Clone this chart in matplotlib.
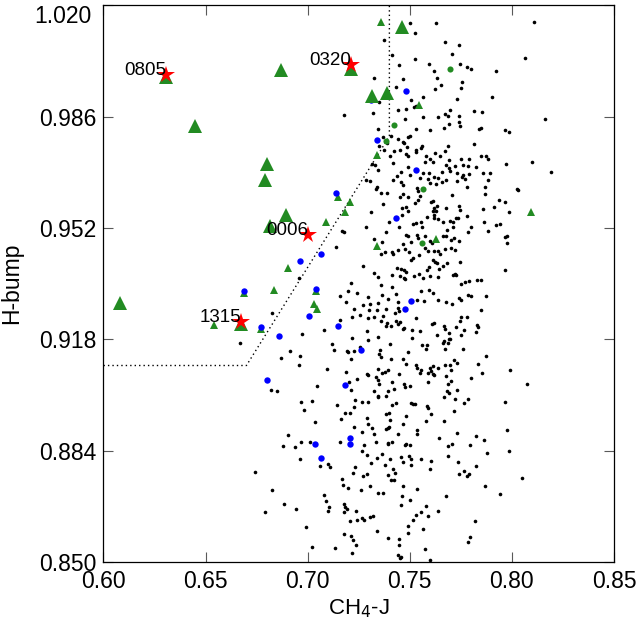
import numpy as np
import matplotlib
matplotlib.use("Agg")
import matplotlib.pyplot as plt
from matplotlib.transforms import ScaledTranslation

plt.rcParams['font.family'] = ['Liberation Sans', 'DejaVu Sans']

# field objects (small black dots): (CH4-J, H-bump)
field_dots = [
    (0.7501, 1.0147), (0.7630, 1.0146), (0.8110, 1.0150), (0.7524, 1.0115), (0.7375, 1.0095),
    (0.7674, 1.0088), (0.7742, 1.0078), (0.7705, 1.0051), (0.7415, 1.0047), (0.7527, 1.0037),
    (0.8065, 1.0040), (0.7447, 1.0018), (0.7594, 1.0020), (0.7744, 1.0022), (0.7781, 1.0011),
    (0.7801, 1.0007), (0.7618, 1.0000), (0.7924, 0.9998), (0.7327, 0.9979), (0.7467, 0.9976),
    (0.7634, 0.9977), (0.7758, 0.9967), (0.7654, 0.9957), (0.7623, 0.9945), (0.7752, 0.9947),
    (0.7434, 0.9951), (0.7902, 0.9921), (0.7564, 0.9921), (0.7348, 0.9905), (0.7504, 0.9910),
    (0.7729, 0.9914), (0.7520, 0.9889), (0.7441, 0.9881), (0.7480, 0.9883), (0.7532, 0.9893),
    (0.7695, 0.9879), (0.7318, 0.9872), (0.7670, 0.9868), (0.7685, 0.9861), (0.7812, 0.9877),
    (0.7854, 0.9873), (0.7740, 0.9861), (0.7563, 0.9860), (0.7638, 0.9859), (0.7178, 0.9866),
    (0.8164, 0.9853), (0.7475, 0.9853), (0.7740, 0.9844), (0.7744, 0.9830), (0.7692, 0.9839),
    (0.7667, 0.9824), (0.7599, 0.9819), (0.7530, 0.9823), (0.7850, 0.9826), (0.7841, 0.9822),
    (0.7343, 0.9822), (0.7965, 0.9820), (0.7986, 0.9813), (0.7501, 0.9801), (0.7493, 0.9798),
    (0.7406, 0.9802), (0.7444, 0.9791), (0.7369, 0.9798), (0.7390, 0.9779), (0.7467, 0.9784),
    (0.7472, 0.9779), (0.7485, 0.9768), (0.7561, 0.9771), (0.7556, 0.9763), (0.7812, 0.9776),
    (0.7687, 0.9769), (0.7674, 0.9756), (0.7348, 0.9769), (0.7375, 0.9759), (0.7424, 0.9754),
    (0.7450, 0.9757), (0.7529, 0.9757), (0.7532, 0.9752), (0.7402, 0.9739), (0.7480, 0.9747),
    (0.7491, 0.9739), (0.7625, 0.9748), (0.7577, 0.9740), (0.7599, 0.9730), (0.7649, 0.9739),
    (0.7693, 0.9727), (0.7753, 0.9731), (0.7788, 0.9732), (0.7848, 0.9739), (0.7871, 0.9739),
    (0.7884, 0.9731), (0.7315, 0.9715), (0.7331, 0.9711), (0.7346, 0.9698), (0.7418, 0.9717),
    (0.7489, 0.9707), (0.7574, 0.9721), (0.7615, 0.9722), (0.7678, 0.9711), (0.7692, 0.9703),
    (0.7722, 0.9710), (0.7762, 0.9711), (0.7784, 0.9708), (0.7823, 0.9707), (0.8099, 0.9722),
    (0.7970, 0.9716), (0.8192, 0.9692), (0.7459, 0.9690), (0.7501, 0.9681), (0.7566, 0.9689),
    (0.7592, 0.9687), (0.7657, 0.9691), (0.7695, 0.9693), (0.7731, 0.9687), (0.7760, 0.9682),
    (0.7788, 0.9686), (0.7858, 0.9687), (0.7894, 0.9688), (0.7286, 0.9667), (0.7305, 0.9663),
    (0.7418, 0.9668), (0.7436, 0.9678), (0.7455, 0.9660), (0.7548, 0.9672), (0.7587, 0.9669),
    (0.7618, 0.9676), (0.7639, 0.9672), (0.7659, 0.9660), (0.7678, 0.9667), (0.7732, 0.9663),
    (0.7755, 0.9676), (0.7768, 0.9670), (0.7884, 0.9667), (0.7338, 0.9646), (0.7336, 0.9640),
    (0.7467, 0.9652), (0.7533, 0.9642), (0.7599, 0.9656), (0.7626, 0.9654), (0.7781, 0.9646),
    (0.7867, 0.9645), (0.8027, 0.9638),
    (0.7361, 0.9627), (0.7390, 0.9627), (0.7450, 0.9616), (0.7467, 0.9625), (0.7493, 0.9615),
    (0.7540, 0.9632), (0.7550, 0.9617), (0.7706, 0.9621), (0.7869, 0.9624), (0.8030, 0.9637),
    (0.7369, 0.9594), (0.7525, 0.9597), (0.7463, 0.9581), (0.7483, 0.9584), (0.7489, 0.9571),
    (0.7460, 0.9560), (0.7540, 0.9606), (0.7604, 0.9599), (0.7613, 0.9601), (0.7631, 0.9588),
    (0.7620, 0.9580), (0.7626, 0.9572), (0.7613, 0.9572), (0.7677, 0.9581), (0.7742, 0.9588),
    (0.7747, 0.9576), (0.7858, 0.9579), (0.7910, 0.9584), (0.7939, 0.9605), (0.7964, 0.9598),
    (0.7985, 0.9569), (0.7309, 0.9570), (0.7582, 0.9554), (0.7620, 0.9561), (0.7620, 0.9551),
    (0.7639, 0.9547), (0.7662, 0.9537), (0.7698, 0.9542), (0.7713, 0.9539), (0.7727, 0.9549),
    (0.7734, 0.9551), (0.7778, 0.9557), (0.7863, 0.9537), (0.7397, 0.9538), (0.7516, 0.9532),
    (0.7530, 0.9534), (0.7553, 0.9537), (0.7558, 0.9522), (0.7445, 0.9524), (0.7284, 0.9523),
    (0.7170, 0.9512), (0.7180, 0.9507), (0.7920, 0.9529), (0.7944, 0.9532), (0.7884, 0.9512),
    (0.7801, 0.9524), (0.7784, 0.9507), (0.7713, 0.9523), (0.7683, 0.9513), (0.7382, 0.9509),
    (0.7483, 0.9498), (0.7489, 0.9497), (0.7537, 0.9500), (0.7542, 0.9489), (0.7573, 0.9494),
    (0.7600, 0.9479), (0.7607, 0.9474), (0.7665, 0.9497), (0.7675, 0.9494), (0.7700, 0.9484),
    (0.7714, 0.9488), (0.7739, 0.9481), (0.7968, 0.9492), (0.7975, 0.9494), (0.7977, 0.9475),
    (0.7327, 0.9486), (0.7366, 0.9477), (0.7141, 0.9462), (0.7468, 0.9471), (0.7506, 0.9478),
    (0.7476, 0.9457), (0.7498, 0.9448), (0.7358, 0.9442), (0.7377, 0.9446), (0.7411, 0.9447),
    (0.7416, 0.9442), (0.7444, 0.9453), (0.7573, 0.9459), (0.7587, 0.9451), (0.7618, 0.9450),
    (0.7639, 0.9451), (0.7646, 0.9442), (0.7674, 0.9457), (0.7700, 0.9458), (0.7719, 0.9454),
    (0.7545, 0.9437), (0.7514, 0.9428), (0.7504, 0.9421), (0.7615, 0.9421), (0.7625, 0.9416),
    (0.7633, 0.9413), (0.7662, 0.9405), (0.7683, 0.9413), (0.7745, 0.9415), (0.7273, 0.9405),
    (0.7439, 0.9399), (0.7459, 0.9396), (0.7473, 0.9392), (0.7480, 0.9385), (0.7584, 0.9393),
    (0.7594, 0.9401), (0.7641, 0.9396), (0.7327, 0.9381), (0.7345, 0.9369), (0.7415, 0.9376),
    (0.7454, 0.9374), (0.7473, 0.9367), (0.7476, 0.9364), (0.7520, 0.9374), (0.7547, 0.9378),
    (0.7563, 0.9368), (0.7599, 0.9372), (0.7639, 0.9370), (0.7711, 0.9376), (0.7719, 0.9380),
    (0.7727, 0.9377), (0.7749, 0.9350), (0.7770, 0.9354), (0.7788, 0.9358), (0.7828, 0.9362),
    (0.7851, 0.9360), (0.7968, 0.9393), (0.7211, 0.9351), (0.7361, 0.9347), (0.7415, 0.9340),
    (0.7199, 0.9328), (0.7240, 0.9320), (0.7156, 0.9311), (0.7190, 0.9293), (0.7297, 0.9309),
    (0.7364, 0.9316), (0.7395, 0.9304), (0.7431, 0.9318), (0.7441, 0.9295), (0.7555, 0.9326),
    (0.7595, 0.9330), (0.7612, 0.9322), (0.7535, 0.9301), (0.7571, 0.9296), (0.7639, 0.9299),
    (0.7678, 0.9293), (0.7706, 0.9287), (0.7740, 0.9306), (0.7750, 0.9299), (0.7783, 0.9315),
    (0.7799, 0.9313), (0.7871, 0.9311), (0.7226, 0.9274), (0.7270, 0.9284), (0.7307, 0.9288),
    (0.7300, 0.9268), (0.7343, 0.9290), (0.7340, 0.9270), (0.7385, 0.9274), (0.7442, 0.9276),
    (0.7449, 0.9265), (0.7429, 0.9260), (0.7257, 0.9255), (0.7217, 0.9248), (0.7323, 0.9248),
    (0.7297, 0.9244), (0.7369, 0.9252), (0.7529, 0.9244), (0.7750, 0.9248), (0.7779, 0.9248),
    (0.7851, 0.9270),
    (0.7159, 0.9238), (0.7361, 0.9235), (0.7390, 0.9230), (0.7385, 0.9222), (0.7408, 0.9220),
    (0.7432, 0.9237), (0.7444, 0.9228), (0.7452, 0.9233), (0.7472, 0.9216), (0.7467, 0.9212),
    (0.7512, 0.9208), (0.7550, 0.9206), (0.7607, 0.9226), (0.7618, 0.9229), (0.7634, 0.9194),
    (0.7667, 0.9222), (0.7670, 0.9211), (0.7693, 0.9199), (0.7726, 0.9219), (0.7745, 0.9235),
    (0.7763, 0.9208), (0.7753, 0.9194), (0.7828, 0.9224), (0.7832, 0.9219), (0.7823, 0.9202),
    (0.7291, 0.9204), (0.7219, 0.9184), (0.7297, 0.9178), (0.7344, 0.9186), (0.7509, 0.9184),
    (0.7402, 0.9167), (0.7558, 0.9163), (0.7584, 0.9163), (0.7581, 0.9150), (0.7661, 0.9168),
    (0.7669, 0.9174), (0.7690, 0.9182), (0.7698, 0.9182), (0.7688, 0.9169), (0.7674, 0.9151),
    (0.7762, 0.9149), (0.7121, 0.9165), (0.7128, 0.9148), (0.7191, 0.9145), (0.7199, 0.9140),
    (0.7227, 0.9144), (0.7257, 0.9155), (0.7354, 0.9148), (0.7349, 0.9136), (0.7358, 0.9127),
    (0.7489, 0.9140), (0.7211, 0.9121), (0.7406, 0.9120), (0.7467, 0.9121), (0.7483, 0.9104),
    (0.7532, 0.9102), (0.7533, 0.9091), (0.7548, 0.9078), (0.7556, 0.9086), (0.7597, 0.9092),
    (0.7612, 0.9100), (0.7604, 0.9084), (0.7613, 0.9075), (0.7620, 0.9072), (0.7587, 0.9077),
    (0.7639, 0.9092), (0.7674, 0.9102), (0.7698, 0.9101), (0.7714, 0.9117), (0.7731, 0.9107),
    (0.7701, 0.9086), (0.7871, 0.9130), (0.7836, 0.9105), (0.7991, 0.9087), (0.7854, 0.9076),
    (0.7801, 0.9063), (0.7188, 0.9079), (0.7292, 0.9075), (0.7296, 0.9071), (0.7344, 0.9089),
    (0.7366, 0.9076), (0.7377, 0.9081), (0.7392, 0.9087), (0.7449, 0.9075), (0.7242, 0.9059),
    (0.7203, 0.9051), (0.7333, 0.9065), (0.7346, 0.9055), (0.7349, 0.9043), (0.7415, 0.9051),
    (0.7421, 0.9029), (0.7473, 0.9042), (0.7476, 0.9034), (0.7501, 0.9037), (0.7590, 0.9049),
    (0.7678, 0.9067), (0.7687, 0.9042), (0.7703, 0.9052), (0.7683, 0.9022), (0.7690, 0.9016),
    (0.7729, 0.9025), (0.7669, 0.9005), (0.8073, 0.9045), (0.7211, 0.9024), (0.7325, 0.9021),
    (0.7344, 0.9008), (0.7343, 0.9005), (0.7382, 0.9008), (0.7393, 0.9022), (0.7142, 0.8980),
    (0.7232, 0.8996), (0.7229, 0.8974), (0.7268, 0.8988), (0.7296, 0.8990), (0.7415, 0.8980),
    (0.7432, 0.8984), (0.7506, 0.8987), (0.7516, 0.8982), (0.7525, 0.8982), (0.7584, 0.8975),
    (0.7587, 0.8969), (0.7719, 0.8997), (0.7766, 0.8984), (0.7783, 0.8999), (0.7964, 0.8990),
    (0.7185, 0.8955), (0.7206, 0.8956), (0.7164, 0.8938), (0.7291, 0.8941), (0.7385, 0.8953),
    (0.7398, 0.8956), (0.7403, 0.8933), (0.7480, 0.8946), (0.7604, 0.8952), (0.7718, 0.8960),
    (0.7579, 0.8930), (0.7468, 0.8921), (0.7669, 0.8930), (0.7297, 0.8921), (0.7229, 0.8911),
    (0.7314, 0.8910), (0.7382, 0.8906), (0.7392, 0.8909), (0.7398, 0.8912), (0.7265, 0.8898),
    (0.7325, 0.8891), (0.7441, 0.8891), (0.7533, 0.8904), (0.7537, 0.8891), (0.7732, 0.8894),
    (0.7825, 0.8886), (0.7975, 0.8903), (0.7864, 0.8873), (0.7643, 0.8879), (0.7159, 0.8865),
    (0.7333, 0.8867), (0.7392, 0.8863), (0.7415, 0.8865), (0.7480, 0.8860), (0.7708, 0.8860),
    (0.6878, 0.8855), (0.6940, 0.8850), (0.6969, 0.8865), (0.7010, 0.8866), (0.7274, 0.8858),
    (0.7391, 0.8859), (0.7478, 0.8858), (0.7500, 0.8856), (0.7686, 0.8853), (0.7797, 0.8856),
    (0.6963, 0.8814), (0.7061, 0.8792), (0.7101, 0.8799), (0.7110, 0.8791), (0.7268, 0.8838),
    (0.7292, 0.8828), (0.7364, 0.8829), (0.7339, 0.8819), (0.7310, 0.8802), (0.7380, 0.8797),
    (0.7404, 0.8813), (0.7456, 0.8821), (0.7465, 0.8804), (0.7494, 0.8823), (0.7504, 0.8815),
    (0.7507, 0.8797), (0.7556, 0.8813), (0.7605, 0.8807), (0.7598, 0.8784), (0.7685, 0.8823),
    (0.7738, 0.8806), (0.7825, 0.8793), (0.7880, 0.8832), (0.7986, 0.8838), (0.6743, 0.8775),
    (0.7224, 0.8773), (0.7233, 0.8791), (0.7272, 0.8763), (0.7289, 0.8768), (0.7167, 0.8754),
    (0.7391, 0.8765), (0.7416, 0.8784), (0.7427, 0.8772), (0.7408, 0.8751), (0.7422, 0.8750),
    (0.7740, 0.8770), (0.7766, 0.8779), (0.7789, 0.8770), (0.7782, 0.8763), (0.8051, 0.8755),
    (0.6826, 0.8719), (0.7175, 0.8736), (0.7199, 0.8726), (0.7263, 0.8721), (0.7307, 0.8731),
    (0.7343, 0.8712), (0.7369, 0.8711), (0.7465, 0.8732), (0.7533, 0.8723), (0.7870, 0.8732),
    (0.7944, 0.8709), (0.7082, 0.8706), (0.7090, 0.8686), (0.7105, 0.8669), (0.7101, 0.8656),
    (0.6886, 0.8678), (0.6942, 0.8663), (0.6790, 0.8652), (0.7176, 0.8677), (0.7185, 0.8667),
    (0.7191, 0.8661), (0.7178, 0.8654), (0.7235, 0.8655), (0.7460, 0.8700), (0.7500, 0.8689),
    (0.7455, 0.8673), (0.7675, 0.8702), (0.7207, 0.8624), (0.7243, 0.8629), (0.7264, 0.8633),
    (0.7277, 0.8628), (0.7307, 0.8637), (0.7321, 0.8640), (0.7338, 0.8595), (0.7492, 0.8611),
    (0.7489, 0.8590), (0.7517, 0.8627), (0.7532, 0.8643), (0.7554, 0.8652), (0.7577, 0.8670),
    (0.7588, 0.8639), (0.7639, 0.8656), (0.7567, 0.8602), (0.7817, 0.8625), (0.6992, 0.8608),
    (0.7178, 0.8586), (0.7211, 0.8578), (0.7224, 0.8566), (0.7235, 0.8551), (0.7219, 0.8528),
    (0.7132, 0.8542), (0.7022, 0.8545), (0.7391, 0.8572), (0.7447, 0.8569), (0.7447, 0.8552),
    (0.7444, 0.8522), (0.7450, 0.8512), (0.7455, 0.8516), (0.7574, 0.8540), (0.7600, 0.8507),
    (0.7786, 0.8561), (0.7797, 0.8575),
    (0.6821, 0.9025), (0.6849, 0.9022), (0.6968, 0.8990), (0.7023, 0.8992), (0.6982, 0.8963),
    (0.7038, 0.8928), (0.6904, 0.8887),
    (0.6827, 0.9260), (0.6668, 0.9169), (0.6955, 0.9367), (0.6971, 0.9197), (0.6913, 0.9145),
    (0.6871, 0.9123), (0.6961, 0.9130), (0.6958, 0.9103), (0.7045, 0.9036), (0.7093, 0.9090),
    (0.7080, 0.9209),
]

blue_x = [0.7482, 0.7308, 0.7338, 0.7530, 0.7140, 0.7431, 0.7067, 0.6963, 0.6689, 0.7040,
          0.7504, 0.7475, 0.7005, 0.7149, 0.6771, 0.6860, 0.7261, 0.6803, 0.7183, 0.7206,
          0.7206, 0.7038, 0.7067]
blue_y = [0.9939, 0.9912, 0.9788, 0.9698, 0.9626, 0.9549, 0.9441, 0.9420, 0.9326, 0.9334,
          0.9296, 0.9274, 0.9250, 0.9220, 0.9218, 0.9189, 0.9146, 0.9057, 0.9041, 0.8879,
          0.8860, 0.8861, 0.8818]

green_dot_x = [0.7699, 0.7424, 0.7382, 0.7566, 0.7558]
green_dot_y = [1.0004, 0.9833, 0.9785, 0.9639, 0.9474]

big_tri_x = [0.6868, 0.6450, 0.6800, 0.6793, 0.7214, 0.7316, 0.7388, 0.7463, 0.6896, 0.6813,
             0.6082, 0.6306, 0.6674]
big_tri_y = [1.0002, 0.9830, 0.9716, 0.9666, 1.0004, 0.9924, 0.9932, 1.0134, 0.9561, 0.9525,
             0.9291, 0.9982, 0.9227]

small_tri_x = [0.7357, 0.7544, 0.7341, 0.7146, 0.7209, 0.7183, 0.7088, 0.7340, 0.7630, 0.8095,
               0.6904, 0.6836, 0.6689, 0.7040, 0.7031, 0.7045, 0.6543, 0.6771]
small_tri_y = [1.0149, 0.9897, 0.9744, 0.9615, 0.9600, 0.9569, 0.9538, 0.9466, 0.9486, 0.9568,
               0.9398, 0.9332, 0.9322, 0.9327, 0.9289, 0.9274, 0.9225, 0.9213]

star_names = ['0805', '0320', '0006', '1315']
star_x = [0.6306, 0.7214, 0.7003, 0.6674]
star_y = [0.9988, 1.0019, 0.9498, 0.9233]

# selection boundary
bound_x = [0.60, 0.67, 0.74, 0.74]
bound_y = [0.910, 0.910, 0.980, 1.030]

xticks = [0.60, 0.65, 0.70, 0.75, 0.80, 0.85]
yticks = [0.850, 0.884, 0.918, 0.952, 0.986, 1.020]

green = '#228b22'

fig = plt.figure(figsize=(6.4, 6.24), dpi=100)
ax = fig.add_axes([0.1617, 0.0994, 0.7977, 0.8921])

dots = np.array(field_dots)
ax.plot(dots[:, 0], dots[:, 1], 'o', color='black', markersize=2.6, mew=0, zorder=2)
ax.plot(bound_x, bound_y, color='black', lw=1.0, ls=(0, (1, 2.2)), zorder=3)
ax.plot(small_tri_x, small_tri_y, '^', color=green, markersize=5.5, mew=0, zorder=4)
ax.plot(blue_x, blue_y, 'o', color='blue', markersize=4.6, mew=0, zorder=5)
ax.plot(green_dot_x, green_dot_y, 'o', color=green, markersize=4.4, mew=0, zorder=5)
ax.plot(big_tri_x, big_tri_y, '^', color=green, markersize=10.5, mew=0, zorder=6)
ax.plot(star_x, star_y, '*', color='red', markersize=13, mew=0, zorder=7)
for name, sx, sy in zip(star_names, star_x, star_y):
    ax.text(sx, sy, name, ha='right', va='baseline', fontsize=13.5, zorder=8)

ax.set_xlim(0.60, 0.85)
ax.set_ylim(0.850, 1.020)
ax.set_xticks(xticks)
ax.set_xticklabels(['%.2f' % t for t in xticks])
ax.set_yticks(yticks)
ax.set_yticklabels(['%.3f' % t for t in yticks])
ax.tick_params(direction='in', top=True, right=True, length=7.5, width=0.8,
               color='0.35', labelsize=16.5, pad=6)
ax.tick_params(axis='y', pad=5)
for sp in ax.spines.values():
    sp.set_linewidth(0.9)

# the top y label sits below its tick, as in the original
top_lab = ax.get_yticklabels()[-1]
top_lab.set_va('top')
top_lab.set_transform(top_lab.get_transform() + ScaledTranslation(-0.05, 0, fig.dpi_scale_trans))

ax.set_xlabel('CH$_4$-J', fontsize=16, labelpad=3)
ax.set_ylabel('H-bump', fontsize=16.5, labelpad=8)

fig.savefig('out.png', dpi=100)
